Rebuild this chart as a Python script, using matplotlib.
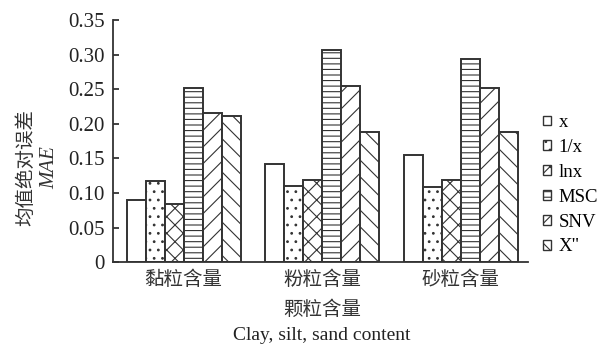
import matplotlib
matplotlib.use("Agg")
import matplotlib.pyplot as plt
import numpy as np

plt.rcParams['font.family'] = ['Liberation Serif', 'Noto Sans CJK SC']
plt.rcParams['hatch.linewidth'] = 0.8

categories = ['黏粒含量', '粉粒含量', '砂粒含量']
series = ['x', '1/x', 'lnx', 'MSC', 'SNV', 'X"']
values = {
    'x':   [0.090, 0.142, 0.155],
    '1/x': [0.117, 0.111, 0.109],
    'lnx': [0.084, 0.119, 0.119],
    'MSC': [0.252, 0.306, 0.293],
    'SNV': [0.216, 0.255, 0.252],
    'X"':  [0.212, 0.188, 0.188],
}
hatches = ['', '..', 'xx', '---', '//', '\\\\']
yticks = [0, 0.05, 0.10, 0.15, 0.20, 0.25, 0.30, 0.35]
ytick_labels = ['0', '0.05', '0.10', '0.15', '0.20', '0.25', '0.30', '0.35']

fig = plt.figure(figsize=(6.08, 3.49), dpi=100)
ax = fig.add_axes([0.186, 0.248, 0.682, 0.695])

w = 0.137
x = np.arange(len(categories))
for i, s in enumerate(series):
    ax.bar(x + (i - 2.5) * w, values[s], width=w, facecolor='white',
           edgecolor='#333333', linewidth=1.4, hatch=hatches[i], label=s)

ax.set_xlim(-0.509, 2.483)
ax.set_ylim(0, 0.35)
ax.set_yticks(yticks)
ax.set_yticklabels(ytick_labels, fontsize=15)
ax.set_xticks(x)
ax.set_xticklabels(categories, fontsize=14, color='#333333')
ax.tick_params(axis='x', length=0, pad=6)
ax.tick_params(axis='y', direction='in', length=4, width=1.2, pad=6, colors='#222222')
for sp in ['top', 'right']:
    ax.spines[sp].set_visible(False)
for sp in ['left', 'bottom']:
    ax.spines[sp].set_linewidth(1.3)
    ax.spines[sp].set_color('#333333')

fig.text(0.042, 0.52, '均值绝对误差', rotation=90, ha='center', va='center',
         fontsize=14, color='#333333')
fig.text(0.082, 0.52, 'MAE', rotation=90, ha='center', va='center',
         fontsize=15, style='italic', color='#333333')
fig.text(0.53, 0.112, '颗粒含量', ha='center', va='center', fontsize=14, color='#333333')
fig.text(0.53, 0.040, 'Clay, silt, sand content', ha='center', va='center',
         fontsize=14, color='#222222')

leg = ax.legend(loc='upper left', bbox_to_anchor=(0.878, 0.70),
                bbox_transform=fig.transFigure, frameon=False, fontsize=13.5,
                handlelength=0.42, handleheight=0.42, handletextpad=0.4,
                labelspacing=0.42, borderpad=0)
for h in leg.legend_handles:
    h.set_linewidth(1.0)

fig.savefig('out.png', dpi=100)
